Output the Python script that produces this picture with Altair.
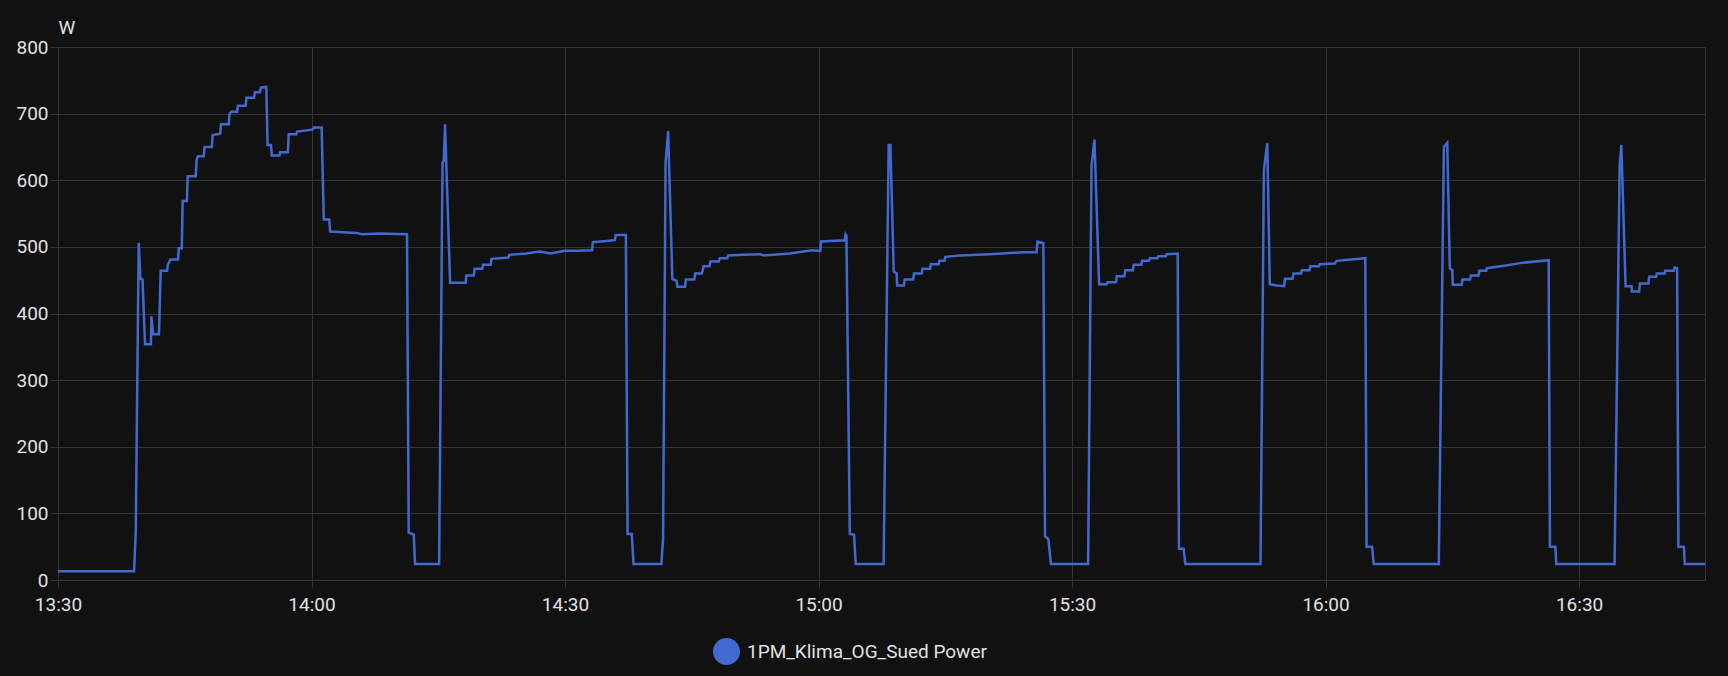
import altair as alt
import pandas as pd
import jinja2

# minutes after 13:30 and power in W
minutes = [
    0, 9.0, 9.2, 9.55, 9.75, 10.0, 10.3, 11.0, 11.05, 11.25, 11.95, 12.15, 12.9, 13.0, 13.3, 14.2,
    14.3, 14.65, 14.75, 15.25, 15.35, 16.3, 16.4, 16.55, 17.25, 17.35, 18.2, 18.3, 19.2, 19.3, 20.2,
    20.3, 20.5, 21.2, 21.3, 22.2, 22.3, 23.2, 23.3, 23.9, 24.0, 24.65, 24.8, 25.2, 25.3, 26.2, 26.3,
    27.2, 27.3, 28.2, 28.3, 30.1, 30.3, 31.2, 31.45, 32.1, 32.2, 35.3, 36.0, 38.0, 41.3, 41.5, 42.1,
    42.25, 45.1, 45.5, 45.65, 45.8, 46.4, 48.25, 48.3, 49.2, 49.3, 50.2, 50.3, 51.2, 51.3, 53.3, 53.4,
    55.4, 57.0, 58.3, 60.0, 61.4, 63.2, 63.3, 65.9, 66.0, 67.2, 67.4, 67.9, 68.1, 71.4, 71.6, 71.9,
    72.2, 72.7, 73.2, 73.3, 74.2, 74.3, 75.3, 75.4, 76.2, 76.4, 77.1, 77.2, 78.2, 78.3, 79.2, 79.3,
    81.1, 83.1, 83.5, 86.6, 89.2, 90.2, 90.3, 93.1, 93.2, 93.3, 93.7, 94.2, 94.4, 97.7, 98.3, 98.5,
    98.9, 99.25, 99.3, 100.1, 100.2, 101.2, 101.3, 102.2, 102.3, 103.2, 103.3, 104.2, 104.3, 104.9,
    105.0, 106.7, 110.3, 114.2, 115.8, 115.9, 116.6, 116.8, 117.2, 117.5, 121.9, 122.3, 122.65, 123.2,
    124.1, 124.2, 125.2, 125.3, 126.2, 126.3, 127.2, 127.3, 128.2, 128.3, 129.1, 129.2, 130.1, 130.2,
    131.1, 131.2, 132.5, 132.65, 133.2, 133.4, 142.3, 142.7, 143.1, 143.4, 144.2, 145.1, 145.2, 146.1,
    146.2, 147.1, 147.2, 148.1, 148.2, 149.2, 149.3, 151.1, 151.3, 154.7, 154.85, 155.5, 155.7, 163.4,
    164.0, 164.4, 164.7, 165.0, 165.05, 166.1, 166.2, 167.1, 167.2, 168.1, 168.2, 169.0, 169.1, 171.3,
    173.2, 176.4, 176.55, 177.2, 177.3, 184.2, 184.8, 185.0, 185.5, 186.2, 186.25, 187.1, 187.2, 188.2,
    188.3, 189.1, 189.2, 190.1, 190.2, 191.2, 191.3, 191.6, 191.75, 192.4, 192.5, 194.9,
]
watts = [
    13, 13, 71, 506, 452, 451, 354, 354, 396, 369, 369, 464, 464, 473, 481, 481,
    498, 498, 569, 569, 606, 606, 630, 636, 636, 650, 650, 668, 670, 684, 684,
    700, 703, 703, 712, 712, 724, 724, 732, 732, 739, 740, 653, 653, 637, 637, 642,
    642, 669, 669, 673, 676, 679, 679, 541, 541, 523, 521, 519, 520, 519, 71, 68,
    24, 24, 626, 629, 684, 446, 446, 457, 457, 467, 467, 473, 473, 482, 484, 488,
    490, 493, 490, 494, 494, 495, 507, 510, 518, 518, 69, 69, 24, 24, 61, 626,
    674, 452, 449, 440, 440, 451, 451, 460, 460, 471, 471, 478, 478, 483, 483, 487,
    488, 489, 487, 490, 495, 494, 508, 510, 519, 517, 69, 68, 24, 24, 653, 653,
    463, 460, 442, 442, 451, 451, 460, 460, 467, 467, 474, 474, 479, 479,
    485, 487, 489, 492, 492, 508, 506, 66, 61, 24, 24, 621, 661, 444,
    444, 447, 447, 456, 456, 465, 465, 473, 473, 479, 479, 483, 483, 486,
    486, 489, 490, 47, 47, 24, 24, 615, 656, 444, 442, 441, 452, 452,
    460, 460, 465, 465, 471, 471, 474, 475, 479, 483, 50, 50, 24, 24,
    650, 656, 468, 465, 443, 443, 451, 451, 457, 457, 464, 464, 468, 472,
    476, 480, 50, 50, 24, 24, 621, 653, 441, 441, 433, 433, 445, 445,
    455, 455, 460, 460, 464, 464, 469, 468, 50, 50, 24, 24,
]
series_name = "1PM_Klima_OG_Sued Power"
y_ticks = [0, 100, 200, 300, 400, 500, 600, 700, 800]
x_tick_hm = [(13, 30), (14, 0), (14, 30), (15, 0), (15, 30), (16, 0), (16, 30)]

start = pd.Timestamp("2024-07-01 13:30:00")
df = pd.DataFrame({
    "time": (start + pd.to_timedelta(minutes, unit="m")).strftime("%Y-%m-%dT%H:%M:%S"),
    "power": watts,
    "series": series_name,
})


def dt(h, m, s=0):
    return alt.DateTime(year=2024, month=7, date=1, hours=h, minutes=m, seconds=s)


BG = "#111111"
GRID = "#353535"
TXT = "#e1e1e1"
LINE = "#4269d0"
FONT = "Roboto"

chart = alt.Chart(df).mark_line(strokeWidth=2.5).encode(
    x=alt.X(
        "time:T",
        scale=alt.Scale(domain=[dt(13, 30), dt(16, 44, 54)], nice=False),
        axis=alt.Axis(
            format="%H:%M",
            values=[dt(h, m) for h, m in x_tick_hm],
            title=None,
            domain=False,
            tickSize=7,
            labelPadding=8,
            labelFlush=False,
        ),
    ),
    y=alt.Y(
        "power:Q",
        scale=alt.Scale(domain=[0, 800], nice=False),
        axis=alt.Axis(
            values=y_ticks,
            title="W",
            titleAngle=0,
            titleAlign="left",
            titleBaseline="alphabetic",
            titleX=0,
            titleY=-14,
            domain=False,
            tickSize=8,
            labelPadding=2,
        ),
    ),
    color=alt.Color(
        "series:N",
        scale=alt.Scale(range=[LINE]),
        legend=alt.Legend(
            title=None,
            orient="none",
            legendX=655,
            legendY=591,
            symbolType="circle",
            symbolSize=729,
            symbolFillColor=LINE,
            symbolStrokeColor=LINE,
            symbolStrokeWidth=0,
            symbolOpacity=1,
            labelOffset=7,
            labelLimit=600,
            padding=0,
        ),
    ),
).properties(
    width=1647,
    height=533,
    background=BG,
    autosize=alt.AutoSizeParams(type="none"),
    padding={"left": 50, "top": 39, "right": 15, "bottom": 90},
).configure_view(
    stroke=GRID,
    strokeWidth=1,
).configure_axis(
    gridColor=GRID,
    tickColor=GRID,
    labelColor=TXT,
    titleColor=TXT,
    labelFont=FONT,
    titleFont=FONT,
    labelFontSize=19,
    titleFontSize=19,
    titleFontWeight="normal",
).configure_legend(
    labelFont=FONT,
    labelFontSize=19,
    labelColor=TXT,
)

# page template: same as the standard one, with a dark page background
PAGE = jinja2.Template("""<!DOCTYPE html>
<html>
<head>
  <style>
    html, body { background: #111111; }
    #{{ output_div }}.vega-embed { width: 100%; display: flex; }
  </style>
  <script type="text/javascript" src="{{ base_url }}/vega@{{ vega_version }}"></script>
  <script type="text/javascript" src="{{ base_url }}/vega-lite@{{ vegalite_version }}"></script>
  <script type="text/javascript" src="{{ base_url }}/vega-embed@{{ vegaembed_version }}"></script>
</head>
<body>
  <div id="{{ output_div }}"></div>
  <script>
    (function(vegaEmbed) {
      var spec = {{ spec }};
      var embedOpt = {{ embed_options }};
      vegaEmbed("#{{ output_div }}", spec, embedOpt).catch(function(error) {
        document.getElementById('{{ output_div }}').innerHTML =
          '<p style="color:red">' + error.message + '</p>';
      });
    })(vegaEmbed);
  </script>
</body>
</html>
""")

chart.save("out.html", embed_options={"renderer": "svg", "actions": False}, template=PAGE)
